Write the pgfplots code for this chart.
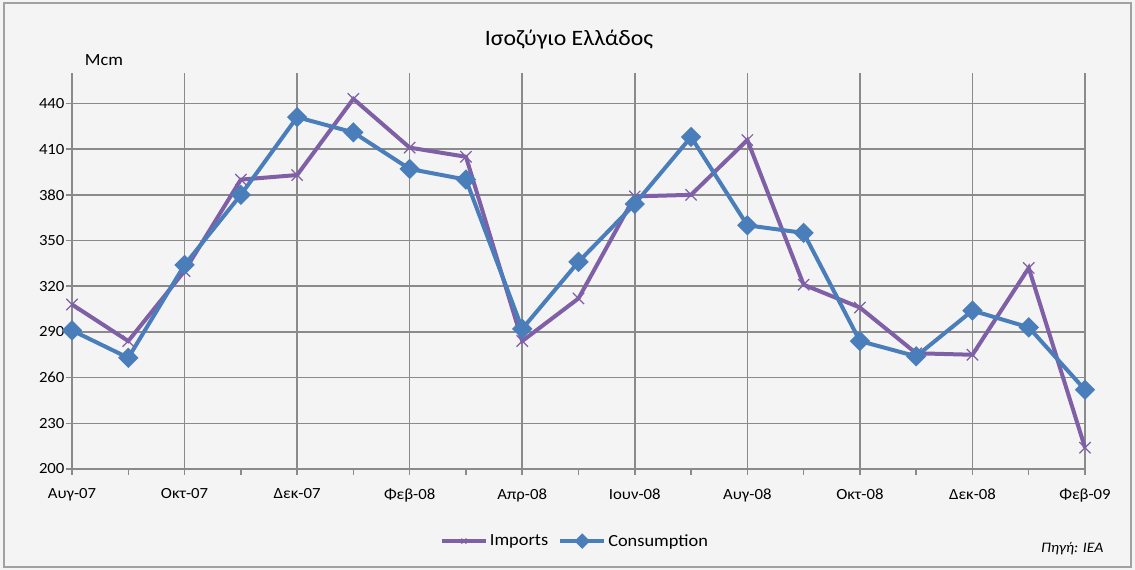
\documentclass[border=0pt]{standalone}
\usepackage{fontspec}
\setmainfont{Carlito}[FakeStretch=1.08]
\usepackage{pgfplots}
\pgfplotsset{compat=1.18}
\definecolor{bg}{HTML}{F4F4F4}
\definecolor{gridc}{HTML}{8A8A8A}
\definecolor{imp}{HTML}{7F5FA6}
\definecolor{cons}{HTML}{4A7EBB}
\pgfplotstableread{
x imp cons
0 308 291
1 284 273
2 330 334
3 390 380
4 393 431
5 443 421
6 411 397
7 405 390
8 284 292
9 312 336
10 379 374
11 380 418
12 416 360
13 321 355
14 306 284
15 276 274
16 275 304
17 332 293
18 214 252
}\datatable
\begin{document}
\begin{tikzpicture}[x=1pt,y=1pt]
\fill[bg] (0,0) rectangle (1135,570);
\draw[gridc!80, line width=1.2] (4,3) rectangle (1131,567);
\node[font=\fontsize{22}{26}\selectfont] at (569,530) {Ισοζύγιο Ελλάδος};
\node[font=\fontsize{17}{20}\selectfont] at (104,510) {Mcm};
\node[font=\fontsize{14.5}{17}\selectfont\itshape, anchor=east] at (1107,21) {Πηγή: IEA};
\begin{axis}[
  at={(72pt,101pt)}, anchor=south west,
  scale only axis, width=1013pt, height=396pt,
  xmin=0, xmax=18, ymin=200, ymax=460,
  axis x line=bottom, axis y line=left,
  axis line style={-, gridc, line width=1.5pt},
  xtick={0,2,...,18}, minor xtick={1,3,...,17},
  xticklabels={Αυγ-07,Οκτ-07,Δεκ-07,Φεβ-08,Απρ-08,Ιουν-08,Αυγ-08,Οκτ-08,Δεκ-08,Φεβ-09},
  ytick={200,230,...,440},
  xmajorgrids, ymajorgrids,
  major grid style={gridc, line width=1.5pt},
  tick align=outside,
  major tick length=6pt, minor tick length=6pt,
  tick style={gridc, line width=1.5pt},
  /pgf/number format/assume math mode=true,
  ticklabel style={font=\fontsize{15.5}{18}\selectfont},
  xticklabel style={yshift=-10pt},
  yticklabel style={xshift=2pt},
  clip=false,
  legend style={at={(0.4965,-0.182)}, anchor=center, draw=none, fill=none,
    font=\fontsize{17}{20}\selectfont, legend columns=-1,
    /tikz/every even column/.append style={column sep=8pt}},
  legend image code/.code={\draw[mark repeat=2,mark phase=2,#1,mark size=3.5pt] plot coordinates {(0pt,0pt) (22pt,0pt) (44pt,0pt)};},
]
\addplot[imp, line width=4pt, mark=x, mark size=8pt, mark options={line width=1.2pt, solid}] table[x=x,y=imp] {\datatable};
\addlegendentry{Imports}
\addplot[cons, line width=4pt, mark=square*, mark size=5.2pt, mark options={solid, rotate=45}] table[x=x,y=cons] {\datatable};
\addlegendentry{Consumption}
\end{axis}
\end{tikzpicture}
\end{document}
